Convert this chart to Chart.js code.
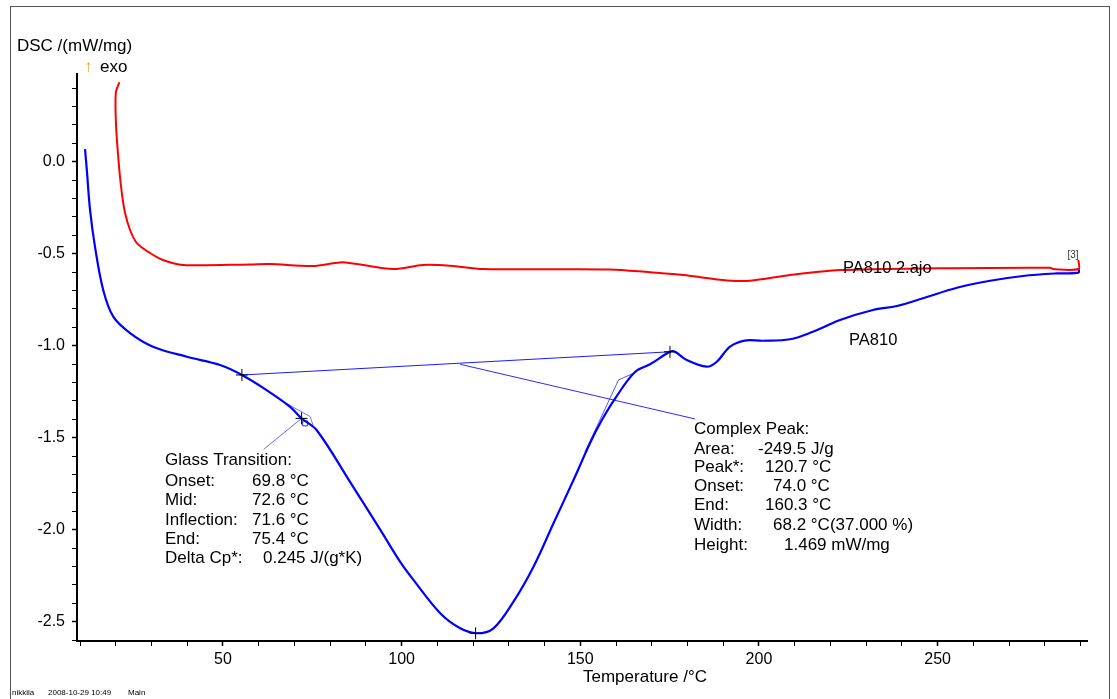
<!DOCTYPE html>
<html>
<head>
<meta charset="utf-8">
<script src="https://cdn.jsdelivr.net/npm/chart.js@4.4.0/dist/chart.umd.min.js"></script>
<style>
  html, body { margin: 0; padding: 0; background: #fff; }
  canvas { display: block; }
</style>
</head>
<body>
<canvas id="dscChart" width="1117" height="699"></canvas>
<script>
// Curve PA810 2.ajo (red)
const redTemp = [21.0, 20.0, 20.1, 21.0, 21.7, 22.6, 24.0, 25.9, 29.6, 33.2, 38.8, 57.6, 63.2, 75.2, 82.8, 87.4, 97.6, 106.0, 113.5, 122.8, 158.3, 169.5, 178.8, 191.1, 197.5, 208.7, 222.7, 250.7, 281.5, 282.3, 289.4, 289.4];
const redDsc = [0.432, 0.373, 0.189, -0.045, -0.170, -0.279, -0.371, -0.442, -0.496, -0.534, -0.561, -0.558, -0.556, -0.567, -0.547, -0.556, -0.583, -0.561, -0.565, -0.583, -0.585, -0.601, -0.616, -0.645, -0.647, -0.616, -0.589, -0.579, -0.576, -0.583, -0.583, -0.534];

// Curve PA810 (blue)
const blueTemp = [11.4, 11.9, 12.8, 14.2, 16.5, 19.3, 24.0, 30.4, 39.9, 49.2, 55.3, 62.2, 68.8, 72.0, 76.2, 85.6, 94.0, 99.6, 103.3, 110.8, 116.4, 121.0, 125.7, 131.3, 136.9, 142.5, 148.1, 152.7, 156.0, 160.0, 165.3, 169.5, 175.1, 176.5, 179.8, 185.4, 188.2, 191.9, 196.0, 201.1, 208.7, 215.1, 222.7, 231.9, 238.6, 245.9, 255.4, 264.7, 273.9, 283.3, 289.4, 289.4];
const blueDsc = [0.069, -0.045, -0.262, -0.464, -0.698, -0.842, -0.931, -1.005, -1.060, -1.105, -1.159, -1.241, -1.332, -1.395, -1.458, -1.741, -2.000, -2.175, -2.273, -2.454, -2.536, -2.563, -2.536, -2.391, -2.201, -1.965, -1.730, -1.530, -1.405, -1.279, -1.143, -1.101, -1.033, -1.033, -1.078, -1.114, -1.087, -1.005, -0.972, -0.973, -0.965, -0.924, -0.860, -0.806, -0.784, -0.742, -0.685, -0.647, -0.621, -0.607, -0.603, -0.578];

// Evaluation lines (baseline, pointers, tangents)
const baselineTemp = [55.3, 175.1];
const baselineDsc = [-1.159, -1.033];
const peakPointerTemp = [116.4, 182.1];
const peakPointerDsc = [-1.101, -1.398];
const glassPointerTemp = [61.4, 72.0];
const glassPointerDsc = [-1.563, -1.395];
const peakTangentTemp = [151.3, 160.7, 165.9];
const peakTangentDsc = [-1.578, -1.186, -1.141];
const glassTangentTemp = [67.4, 74.4, 75.2];
const glassTangentDsc = [-1.310, -1.385, -1.431];
const markerTemp = [55.3, 72.0, 120.7, 175.1];
const markerDsc = [-1.159, -1.395, -2.563, -1.033];
const squareTemp = [73.0];
const squareDsc = [-1.422];

// Axis ticks
const xTickLabels = [50, 100, 150, 200, 250];
const yTickValues = [0, -0.5, -1.0, -1.5, -2.0, -2.5];
const yTickLabels = ['0.0', '-0.5', '-1.0', '-1.5', '-2.0', '-2.5'];

const FONT = '"Liberation Sans", Arial, sans-serif';

function pts(xs, ys) {
  return xs.map((x, i) => ({ x: x, y: ys[i] }));
}

function thinLine(xs, ys, color) {
  return {
    data: pts(xs, ys),
    showLine: true,
    borderColor: color,
    borderWidth: 1,
    pointRadius: 0,
    tension: 0,
    order: 3
  };
}

// Texts around the curves
const textPlugin = {
  id: 'dscTexts',
  beforeDraw(chart) {
    const ctx = chart.ctx;
    ctx.save();
    ctx.fillStyle = '#fff';
    ctx.fillRect(0, 0, chart.width, chart.height);
    ctx.strokeStyle = '#555';
    ctx.lineWidth = 1;
    ctx.strokeRect(10.5, 6.5, 1099, 700);
    ctx.restore();
  },
  afterDraw(chart) {
    const ctx = chart.ctx;
    ctx.save();
    ctx.textBaseline = 'middle';
    ctx.textAlign = 'left';

    const put = (txt, x, y, size, color) => {
      ctx.font = size + 'px ' + FONT;
      ctx.fillStyle = color || '#000';
      ctx.fillText(txt, x, y);
    };

    put('DSC /(mW/mg)', 17, 46, 17);
    put('\u2191', 84, 67, 17, '#e8a33c');
    put('exo', 100, 67, 17);

    put('PA810 2.ajo', 843, 268, 16.5);
    put('PA810', 849, 340, 16.5);
    ctx.textAlign = 'center';
    put('[3]', 1073, 255, 10, '#333');
    ctx.textAlign = 'left';

    // Glass transition block
    const gY = [460, 481, 500.3, 520, 539, 558.3];
    put('Glass Transition:', 165, gY[0], 17);
    put('Onset:', 165, gY[1], 17);      put('69.8 \u00b0C', 252, gY[1], 17);
    put('Mid:', 165, gY[2], 17);        put('72.6 \u00b0C', 252, gY[2], 17);
    put('Inflection:', 165, gY[3], 17); put('71.6 \u00b0C', 252, gY[3], 17);
    put('End:', 165, gY[4], 17);        put('75.4 \u00b0C', 252, gY[4], 17);
    put('Delta Cp*:', 165, gY[5], 17);  put('0.245 J/(g*K)', 263, gY[5], 17);

    // Complex peak block
    const cY = [429.3, 449, 467.7, 486.7, 505.7, 525.7, 545];
    put('Complex Peak:', 694, cY[0], 17);
    put('Area:', 694, cY[1], 17);   put('-249.5 J/g', 758, cY[1], 17);
    put('Peak*:', 694, cY[2], 17);  put('120.7 \u00b0C', 765, cY[2], 17);
    put('Onset:', 694, cY[3], 17);  put('74.0 \u00b0C', 773, cY[3], 17);
    put('End:', 694, cY[4], 17);    put('160.3 \u00b0C', 765, cY[4], 17);
    put('Width:', 694, cY[5], 17);  put('68.2 \u00b0C(37.000 %)', 773, cY[5], 17);
    put('Height:', 694, cY[6], 17); put('1.469 mW/mg', 784, cY[6], 17);

    put('Temperature /\u00b0C', 583, 677, 17);

    put('nikkila', 12, 693, 8);
    put('2008-10-29 10:49', 48, 693, 8);
    put('Main', 128, 693, 8);
    ctx.restore();
  }
};

new Chart(document.getElementById('dscChart'), {
  type: 'scatter',
  data: {
    datasets: [
      {
        label: 'PA810 2.ajo',
        data: pts(redTemp, redDsc),
        showLine: true,
        borderColor: '#ff0000',
        borderWidth: 2,
        pointRadius: 0,
        tension: 0.3,
        order: 1
      },
      {
        label: 'PA810',
        data: pts(blueTemp, blueDsc),
        showLine: true,
        borderColor: '#0000ff',
        borderWidth: 2.2,
        pointRadius: 0,
        tension: 0.35,
        order: 1
      },
      thinLine(baselineTemp, baselineDsc, '#1a1aff'),
      thinLine(peakPointerTemp, peakPointerDsc, '#2a2aff'),
      thinLine(glassPointerTemp, glassPointerDsc, '#6a6aff'),
      thinLine(peakTangentTemp, peakTangentDsc, '#5555ff'),
      thinLine(glassTangentTemp, glassTangentDsc, '#7777ff'),
      {
        data: pts(squareTemp, squareDsc),
        pointStyle: 'rect',
        pointRadius: 3.5,
        backgroundColor: 'rgba(0,0,0,0)',
        borderColor: '#2a2aff',
        borderWidth: 1,
        order: 2
      },
      {
        data: pts(markerTemp, markerDsc),
        pointStyle: 'cross',
        pointRadius: 6,
        borderColor: '#000',
        borderWidth: 1,
        order: 0
      }
    ]
  },
  options: {
    responsive: false,
    animation: false,
    events: [],
    layout: {
      padding: { left: 10, top: 74, right: 30, bottom: 0 }
    },
    plugins: {
      legend: { display: false },
      tooltip: { enabled: false }
    },
    scales: {
      x: {
        type: 'linear',
        min: 9.15,
        max: 291.8,
        afterBuildTicks: scale => {
          const t = [];
          for (let v = 10; v <= 290; v += 10) t.push({ value: v });
          scale.ticks = t;
        },
        afterFit: scale => { scale.height = 58; },
        ticks: {
          autoSkip: false,
          maxRotation: 0,
          padding: 4,
          color: '#000',
          font: { family: FONT, size: 16 },
          callback: v => xTickLabels.includes(v) ? String(v) : ''
        },
        grid: {
          drawOnChartArea: false,
          drawTicks: true,
          tickLength: 5,
          tickColor: '#000',
          tickWidth: c => xTickLabels.includes(c.tick.value) ? 1.5 : 1
        },
        border: { display: true, color: '#000', width: 2 }
      },
      y: {
        type: 'linear',
        min: -2.605,
        max: 0.477,
        afterBuildTicks: scale => {
          const t = [];
          for (let k = -26; k <= 4; k++) t.push({ value: k / 10 });
          scale.ticks = t;
        },
        afterFit: scale => { scale.width = 67; },
        ticks: {
          autoSkip: false,
          padding: 7,
          color: '#000',
          font: { family: FONT, size: 16 },
          callback: v => {
            const i = yTickValues.findIndex(y => Math.abs(y - v) < 1e-6);
            return i >= 0 ? yTickLabels[i] : '';
          }
        },
        grid: {
          drawOnChartArea: false,
          drawTicks: true,
          tickLength: 5,
          tickColor: '#000',
          tickWidth: c => yTickValues.some(y => Math.abs(y - c.tick.value) < 1e-6) ? 1.5 : 1
        },
        border: { display: true, color: '#000', width: 2 }
      }
    }
  },
  plugins: [textPlugin]
});
</script>
</body>
</html>
